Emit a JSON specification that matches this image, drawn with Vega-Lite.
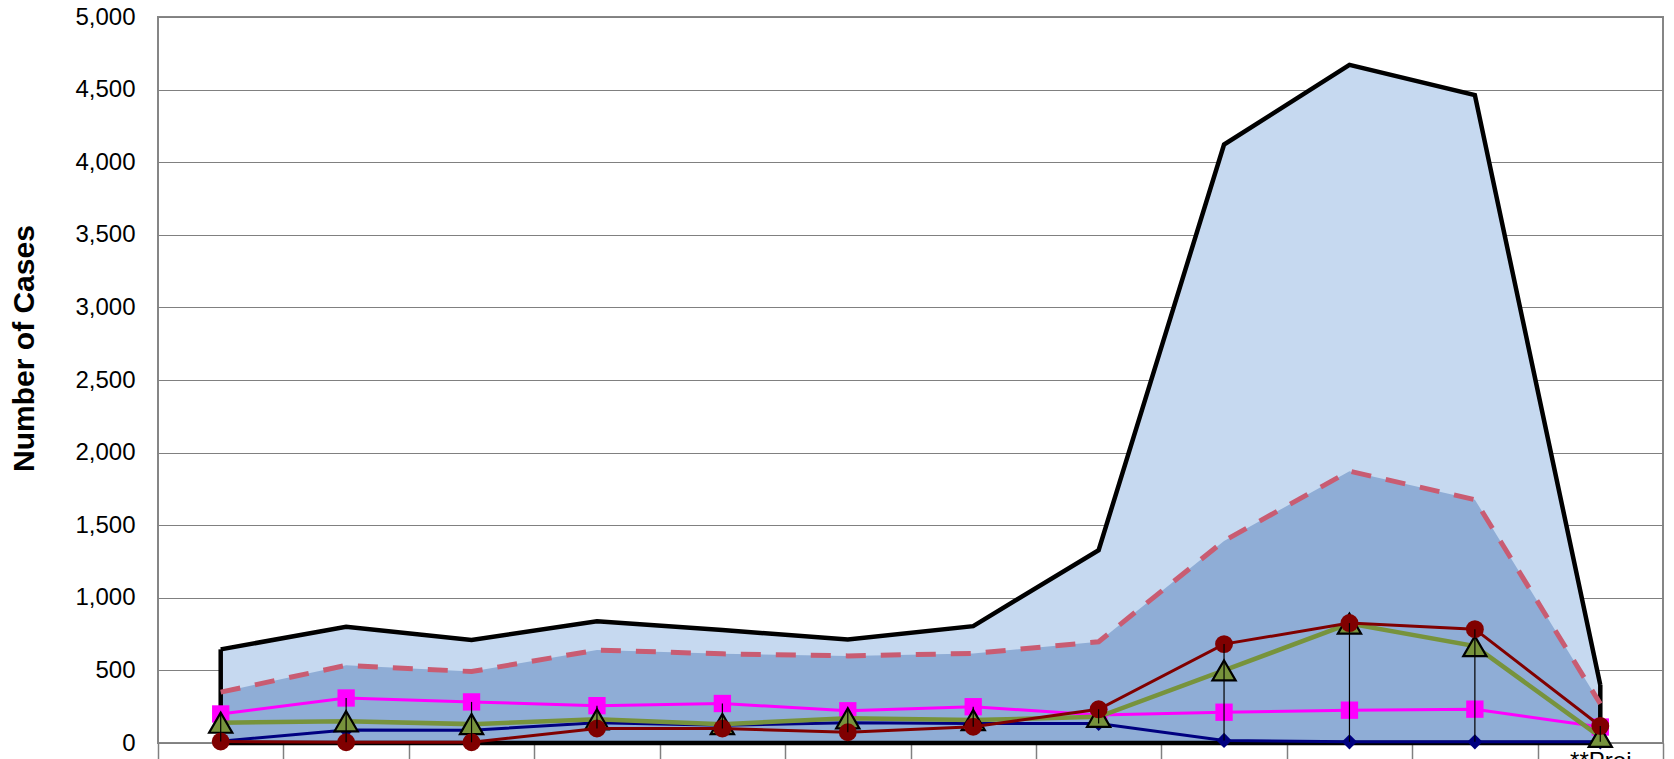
{
  "$schema": "https://vega.github.io/schema/vega-lite/v6.json",
  "width": 1505,
  "height": 726,
  "autosize": {"type": "none"},
  "padding": {"left": 158, "top": 17, "right": 11, "bottom": 16},
  "config": {
    "view": {"stroke": "#868686", "strokeWidth": 2},
    "font": "Liberation Sans",
    "numberFormat": ",d",
    "axisY": {
      "domain": false,
      "ticks": false,
      "grid": true,
      "gridColor": "#808080",
      "gridWidth": 1,
      "labelFontSize": 24,
      "labelColor": "#000000",
      "labelPadding": 23,
      "titleFontSize": 30,
      "titleFontWeight": "bold",
      "titleColor": "#000000",
      "titleX": -134,
      "titleY": 331,
      "titleAlign": "center",
      "titleBaseline": "middle",
      "titleAngle": 270
    }
  },
  "data": {
    "values": [
      {"period": "1", "total": 645, "subtotal": 350, "series_a": 200, "series_b": 140, "series_c": 10, "series_d": 12},
      {"period": "2", "total": 800, "subtotal": 535, "series_a": 310, "series_b": 150, "series_c": 5, "series_d": 90},
      {"period": "3", "total": 710, "subtotal": 492, "series_a": 283, "series_b": 130, "series_c": 5, "series_d": 88},
      {"period": "4", "total": 838, "subtotal": 640, "series_a": 257, "series_b": 163, "series_c": 100, "series_d": 140},
      {"period": "5", "total": 778, "subtotal": 614, "series_a": 272, "series_b": 130, "series_c": 100, "series_d": 122},
      {"period": "6", "total": 713, "subtotal": 600, "series_a": 222, "series_b": 170, "series_c": 74, "series_d": 140},
      {"period": "7", "total": 805, "subtotal": 617, "series_a": 250, "series_b": 158, "series_c": 112, "series_d": 135},
      {"period": "8", "total": 1328, "subtotal": 697, "series_a": 193, "series_b": 180, "series_c": 232, "series_d": 135},
      {"period": "9", "total": 4122, "subtotal": 1392, "series_a": 212, "series_b": 500, "series_c": 681, "series_d": 18},
      {"period": "10", "total": 4670, "subtotal": 1872, "series_a": 226, "series_b": 822, "series_c": 826, "series_d": 8},
      {"period": "11", "total": 4462, "subtotal": 1676, "series_a": 233, "series_b": 667, "series_c": 784, "series_d": 8},
      {"period": "**Projected", "total": 400, "subtotal": 270, "series_a": 110, "series_b": 42, "series_c": 117, "series_d": 8}
    ]
  },
  "encoding": {
    "x": {
      "field": "period",
      "type": "ordinal",
      "sort": null,
      "scale": {"paddingInner": 0, "paddingOuter": 0},
      "axis": {
        "title": null,
        "domain": false,
        "grid": false,
        "ticks": true,
        "tickBand": "extent",
        "tickSize": 22,
        "tickColor": "#808080",
        "tickWidth": 1.5,
        "labelAngle": 0,
        "labelExpr": "datum.label == '**Projected' ? ['**Proj', 'ected'] : ''",
        "labelFontSize": 24,
        "labelColor": "#000000",
        "labelPadding": -16,
        "labelBaseline": "top",
        "labelLineHeight": 28
      }
    }
  },
  "layer": [
    {
      "mark": {"type": "area", "color": "#C6D9F0", "opacity": 1},
      "encoding": {
        "y": {
          "field": "total",
          "type": "quantitative",
          "title": "Number of Cases",
          "scale": {"domain": [0, 5000], "nice": false},
          "axis": {"values": [0, 500, 1000, 1500, 2000, 2500, 3000, 3500, 4000, 4500, 5000], "format": ",d"}
        }
      }
    },
    {
      "mark": {"type": "area", "color": "#8FADD6", "opacity": 1},
      "encoding": {"y": {"field": "subtotal", "type": "quantitative", "title": "Number of Cases", "axis": {"format": ",d"}}}
    },
    {
      "mark": {"type": "line", "color": "#000000", "strokeWidth": 4.5, "strokeJoin": "miter"},
      "encoding": {"y": {"field": "total", "type": "quantitative", "title": "Number of Cases", "axis": {"format": ",d"}}}
    },
    {
      "transform": [{"filter": "datum.period == '1' || datum.period == '**Projected'"}],
      "mark": {"type": "rule", "color": "#000000", "strokeWidth": 4.5},
      "encoding": {
        "y": {"field": "total", "type": "quantitative", "title": "Number of Cases", "axis": {"format": ",d"}},
        "y2": {"datum": 0}
      }
    },
    {
      "mark": {"type": "line", "color": "#C95C72", "strokeWidth": 5, "strokeDash": [20, 15]},
      "encoding": {"y": {"field": "subtotal", "type": "quantitative", "title": "Number of Cases", "axis": {"format": ",d"}}}
    },
    {
      "mark": {"type": "line", "color": "#000000", "strokeWidth": 4.5},
      "encoding": {"y": {"datum": 0, "type": "quantitative", "title": "Number of Cases", "axis": {"format": ",d"}}}
    },
    {
      "mark": {"type": "line", "color": "#000080", "strokeWidth": 3},
      "encoding": {"y": {"field": "series_d", "type": "quantitative", "title": "Number of Cases", "axis": {"format": ",d"}}}
    },
    {
      "mark": {"type": "point", "shape": "diamond", "filled": true, "color": "#000080", "size": 230, "opacity": 1},
      "encoding": {"y": {"field": "series_d", "type": "quantitative", "title": "Number of Cases", "axis": {"format": ",d"}}}
    },
    {
      "mark": {"type": "line", "color": "#FF00FF", "strokeWidth": 3},
      "encoding": {"y": {"field": "series_a", "type": "quantitative", "title": "Number of Cases", "axis": {"format": ",d"}}}
    },
    {
      "mark": {"type": "point", "shape": "square", "filled": true, "color": "#FF00FF", "size": 300, "opacity": 1},
      "encoding": {"y": {"field": "series_a", "type": "quantitative", "title": "Number of Cases", "axis": {"format": ",d"}}}
    },
    {
      "mark": {"type": "line", "color": "#77933C", "strokeWidth": 4.5},
      "encoding": {"y": {"field": "series_b", "type": "quantitative", "title": "Number of Cases", "axis": {"format": ",d"}}}
    },
    {
      "mark": {"type": "point", "shape": "triangle-up", "filled": true, "fill": "#77933C", "stroke": "#000000", "strokeWidth": 2.2, "size": 540, "opacity": 1},
      "encoding": {"y": {"field": "series_b", "type": "quantitative", "title": "Number of Cases", "axis": {"format": ",d"}}}
    },
    {
      "mark": {"type": "line", "color": "#800000", "strokeWidth": 3},
      "encoding": {"y": {"field": "series_c", "type": "quantitative", "title": "Number of Cases", "axis": {"format": ",d"}}}
    },
    {
      "mark": {"type": "point", "shape": "circle", "filled": true, "color": "#800000", "size": 320, "opacity": 1},
      "encoding": {"y": {"field": "series_c", "type": "quantitative", "title": "Number of Cases", "axis": {"format": ",d"}}}
    },
    {
      "transform": [
        {"fold": ["series_a", "series_b", "series_c", "series_d"], "as": ["series", "cases"]},
        {"aggregate": [{"op": "max", "field": "cases", "as": "high"}, {"op": "min", "field": "cases", "as": "low"}], "groupby": ["period"]}
      ],
      "mark": {"type": "rule", "color": "#000000", "strokeWidth": 1.2},
      "encoding": {
        "y": {"field": "high", "type": "quantitative", "title": "Number of Cases", "axis": {"format": ",d"}},
        "y2": {"field": "low"}
      }
    }
  ]
}
